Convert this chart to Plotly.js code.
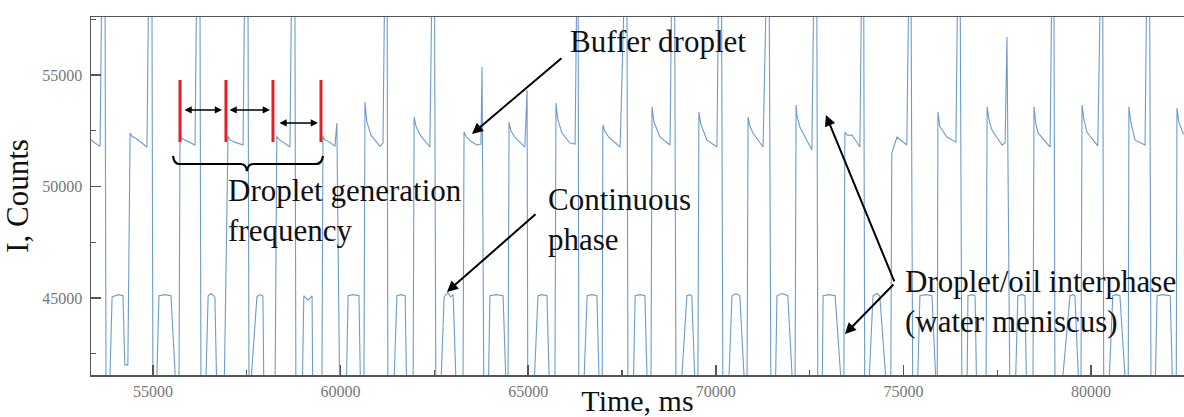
<!DOCTYPE html>
<html>
<head>
<meta charset="utf-8">
<script src="https://cdn.plot.ly/plotly-3.0.1.min.js"></script>
<style>
html,body{margin:0;padding:0;background:#fff;}
#chart{width:1184px;height:417px;}
</style>
</head>
<body>
<div id="chart"></div>
<script>
const timeMs = [
  53350, 53450, 53590, 53640, 53720, 53750,
  53830, 53910, 54070, 54200, 54250, 54330, 54390, 54440, 54550, 54710, 54840, 54890, 54970, 55000,
  55080, 55160, 55320, 55480, 55640, 55690, 55720, 55770, 55880, 56120, 56170, 56250, 56280,
  56390, 56470, 56550, 56650, 56710, 56890, 57000, 57050, 57160, 57400, 57450, 57530, 57560,
  57770, 57850, 57930, 57960, 58250, 58300, 58360, 58460, 58650, 58700, 58780, 58810,
  58970, 59020, 59130, 59240, 59260, 59500, 59530, 59580, 59690, 59850, 59900, 59980,
  60140, 60200, 60330, 60490, 60540, 60620, 60650, 60700, 60810, 61050, 61130, 61180, 61240, 61260,
  61400, 61500, 61610, 61720, 61770, 61930, 61960, 62010, 62120, 62380, 62440, 62500, 62540,
  62650, 62760, 62860, 62930, 63000, 63100, 63260, 63290, 63340, 63450, 63630, 63740, 63770, 63820,
  63930, 63980, 64140, 64330, 64430, 64460, 64490, 64540, 64650, 64910, 64970, 64990,
  65130, 65260, 65370, 65500, 65580, 65710, 65740, 65790, 65900, 66110, 66250, 66300, 66330, 66350,
  66460, 66570, 66700, 66830, 66910, 66970, 66990, 67050, 67150, 67450, 67580, 67630, 67660,
  67790, 67850, 67980, 68110, 68190, 68270, 68300, 68350, 68510, 68780, 68830, 68900, 68940,
  69040, 69230, 69310, 69360, 69470, 69520, 69550, 69600, 69760, 70030, 70080, 70150, 70190,
  70320, 70430, 70540, 70640, 70800, 70830, 70860, 70910, 70990, 71260, 71360, 71420, 71470,
  71580, 71630, 71760, 71920, 72080, 72110, 72140, 72160, 72240, 72560, 72620, 72690, 72720,
  72830, 72860, 73020, 73180, 73390, 73410, 73440, 73500, 73630, 73840, 73890, 73940, 73970,
  74050, 74190, 74290, 74370, 74590, 74660, 74690, 74830, 75090, 75150, 75200, 75250,
  75360, 75440, 75600, 75760, 75890, 75900, 75920, 75970, 76160, 76400, 76450, 76510, 76560,
  76690, 76720, 76830, 76910, 76960, 77200, 77230, 77280, 77360, 77630, 77710, 77760, 77840,
  77970, 78050, 78160, 78240, 78290, 78450, 78480, 78530, 78590, 78910, 78960, 79010, 79040,
  79170, 79440, 79520, 79570, 79700, 79730, 79760, 79810, 79890, 80180, 80260, 80310, 80340,
  80450, 80580, 80690, 80770, 80960, 80990, 81010, 81060, 81170, 81440, 81490, 81560, 81600,
  81700, 81760, 81920, 82110, 82190, 82270, 82290, 82340, 82450, 82640
];
// Intensity (counts) at each vertex
const counts = [
  52100, 51950, 51800, 60000, 60000, 40000,
  40000, 45050, 45150, 45100, 42000, 42000, 52400, 52250, 52150, 51950, 51770, 60000, 60000, 40000,
  40000, 45100, 45150, 45100, 40000, 40000, 52300, 52150, 52050, 51860, 60000, 60000, 40000,
  40000, 45100, 45200, 45050, 40000, 40000, 52250, 52100, 52000, 51860, 60000, 60000, 40000,
  45050, 45150, 45100, 40000, 40000, 52250, 52100, 52000, 51770, 60000, 60000, 40000,
  40000, 45100, 44900, 45100, 40000, 40000, 52250, 52100, 52000, 51820, 52850, 40000,
  40000, 45100, 45150, 45100, 40000, 40000, 53790, 52900, 52300, 51800, 51950, 60000, 60000, 40000,
  40000, 45100, 45150, 45100, 40000, 40000, 53120, 52700, 52310, 51770, 60000, 60000, 40000,
  40000, 45050, 45250, 45050, 45150, 40000, 40000, 52440, 52250, 52050, 51860, 51900, 55360, 40000,
  40000, 45100, 45150, 45100, 40000, 40000, 52890, 52500, 52200, 51770, 54330, 40000,
  40000, 45100, 45150, 45100, 40000, 40000, 53740, 53000, 52400, 51950, 51900, 60000, 60000, 40000,
  40000, 45100, 45150, 45100, 40000, 40000, 52760, 52450, 52200, 51770, 60000, 60000, 40000,
  40000, 45100, 45150, 45100, 40000, 40000, 53570, 52900, 52220, 51860, 60000, 60000, 40000,
  40000, 45100, 45150, 45100, 40000, 40000, 53340, 52800, 52090, 51770, 60000, 60000, 40000,
  40000, 45100, 45200, 45100, 40000, 40000, 53120, 52700, 52400, 51770, 60000, 60000, 40000,
  40000, 45100, 45200, 45100, 40000, 40000, 53650, 53200, 52670, 51640, 60000, 60000, 40000,
  40000, 45100, 45150, 45100, 40000, 40000, 52440, 52300, 52310, 51770, 60000, 60000, 40000,
  40000, 45100, 45200, 45100, 40000, 40000, 51500, 52220, 51860, 60000, 60000, 40000,
  40000, 45100, 45150, 45100, 40000, 40000, 53340, 52700, 52220, 51990, 60000, 60000, 40000,
  40000, 45100, 45150, 45100, 40000, 40000, 53570, 53000, 52530, 51860, 51950, 56700, 40000,
  40000, 45100, 45150, 45100, 40000, 40000, 53570, 52800, 52400, 51770, 60000, 60000, 40000,
  40000, 45100, 45150, 45100, 40000, 40000, 53650, 53000, 52440, 51820, 60000, 60000, 40000,
  40000, 45100, 45150, 45100, 40000, 40000, 53570, 52900, 52090, 51860, 60000, 60000, 40000,
  40000, 45100, 45150, 45100, 40000, 40000, 53520, 52900, 52400, 52100
];

const xTickVals = [55000, 60000, 65000, 70000, 75000, 80000];
const xTickText = ["55000", "60000", "65000", "70000", "75000", "80000"];
const yTickVals = [45000, 50000, 55000];
const yTickText = ["45000", "50000", "55000"];

// Droplet-generation markers (red bars) in ms
const redBarTimes = [55720, 56945, 58198, 59477];

const labelBuffer = "Buffer droplet";
const labelFrequency = "Droplet generation<br>frequency";
const labelContinuous = "Continuous<br>phase";
const labelInterphase = "Droplet/oil interphase<br>(water meniscus)";

const SERIF = "'Liberation Serif', 'Times New Roman', serif";

const trace = {
  x: timeMs, y: counts, type: 'scatter', mode: 'lines',
  line: {color: 'rgb(108,156,206)', width: 1.1},
  hoverinfo: 'skip', showlegend: false
};

const shapes = redBarTimes.map(t => ({
  type: 'line', xref: 'x', yref: 'y', x0: t, x1: t, y0: 51996, y1: 54776,
  line: {color: 'rgb(226,32,40)', width: 3}
}));
// curly brace under the red bars
shapes.push({
  type: 'path', xref: 'x', yref: 'y',
  path: 'M 55533,51368 Q 55560,51009 55693,51009 L 57345,51009 Q 57480,51009 57505,50695 ' +
        'Q 57530,51009 57665,51009 L 59344,51009 Q 59500,51009 59531,51368',
  line: {color: '#000', width: 2.2}
});

function arrow(x, y, ax, ay, extra) {
  return Object.assign({
    x: x, y: y, ax: ax, ay: ay, xref: 'x', yref: 'y', axref: 'x', ayref: 'y',
    text: '', showarrow: true, arrowhead: 2, arrowsize: 1.1, arrowwidth: 2,
    arrowcolor: '#000', standoff: 0, startstandoff: 0
  }, extra || {});
}
function label(x, y, text) {
  return {
    x: x, y: y, xref: 'x', yref: 'y', text: text, showarrow: false,
    xanchor: 'left', yanchor: 'middle', align: 'left',
    font: {family: SERIF, size: 31, color: '#111'}
  };
}

const annotations = [
  label(66060, 56480, labelBuffer),
  label(56950, 48902, labelFrequency),
  label(65480, 48521, labelContinuous),
  label(74990, 44844, labelInterphase),
  arrow(63501, 52354, 65927, 55807),
  arrow(62835, 45270, 65234, 48812),
  arrow(72935, 53206, 74774, 45673),
  arrow(73442, 43387, 74774, 45673),
  arrow(56839, 53431, 55800, 53431, {arrowside: 'end+start', arrowsize: 0.9, arrowwidth: 1.6}),
  arrow(58118, 53431, 57000, 53431, {arrowside: 'end+start', arrowsize: 0.9, arrowwidth: 1.6}),
  arrow(59397, 52848, 58331, 52848, {arrowside: 'end+start', arrowsize: 0.9, arrowwidth: 1.6})
];

const axisCommon = {
  showgrid: false, zeroline: false, showline: true,
  linecolor: '#555', linewidth: 1.5,
  ticks: 'inside', ticklen: 10, tickwidth: 1.5, tickcolor: '#555',
  tickfont: {family: SERIF, size: 16, color: '#777'},
  minor: {ticks: 'inside', ticklen: 5, tickwidth: 1.2, tickcolor: '#555', dtick: 2500}
};

const layout = {
  width: 1184, height: 417,
  margin: {l: 91, r: 0, t: 17, b: 42, pad: 0},
  paper_bgcolor: '#fff', plot_bgcolor: '#fff',
  showlegend: false,
  xaxis: Object.assign({}, axisCommon, {
    range: [53348, 82478], tickmode: 'array', tickvals: xTickVals, ticktext: xTickText,
    mirror: true, ticklabelstandoff: 1,
    title: {text: 'Time, ms', font: {family: SERIF, size: 30, color: '#111'}, standoff: 0}
  }),
  yaxis: Object.assign({}, axisCommon, {
    range: [41547, 57600], tickmode: 'array', tickvals: yTickVals, ticktext: yTickText,
    ticklabelstandoff: 4,
    title: {text: 'I, Counts', font: {family: SERIF, size: 31, color: '#111'}, standoff: 6}
  }),
  shapes: shapes,
  annotations: annotations
};

Plotly.newPlot('chart', [trace], layout, {displayModeBar: false, staticPlot: true});
</script>
</body>
</html>
